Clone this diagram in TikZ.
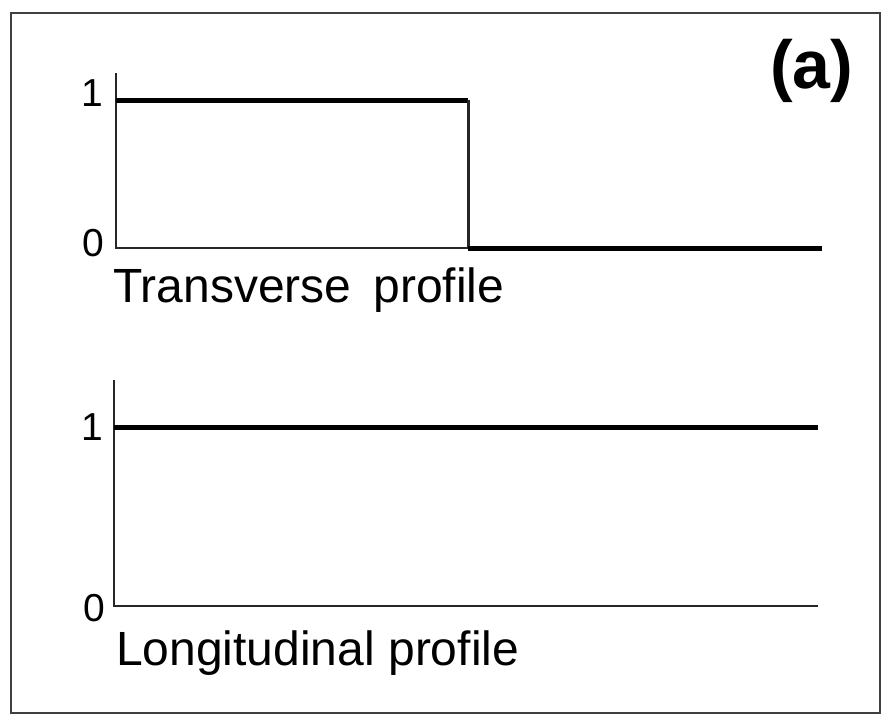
\documentclass[tikz,border=0pt]{standalone}
\usepackage{fontspec}
\setmainfont{Liberation Sans}
\usetikzlibrary{positioning}

\begin{document}
\begin{tikzpicture}[
    x=1pt, y=-1pt,
    frame/.style={line width=2pt, black!75},
    axis/.style={line width=2pt, black!85},
    signal/.style={line width=5pt, black},
    ticklabel/.style={font=\fontsize{39}{40}\selectfont, anchor=east, inner sep=0pt},
    caption/.style={font=\fontsize{48}{50}\selectfont, anchor=base west, inner sep=0pt},
    panel/.style={font=\bfseries\fontsize{68}{70}\selectfont, anchor=base west, inner sep=0pt}
]

    \useasboundingbox (0,0) rectangle (888,720);
    \draw [frame] (11,13) rectangle (880,713);

    % Panel label
    \node [panel] (tag) at (770,88) {(a)};

    %--- Transverse profile ---
    \coordinate (t-top) at (116,73);
    \coordinate (t-origin) at (116,248);
    \coordinate (t-end) at (822,248);
    \coordinate (t-one) at (116,100);
    \coordinate (t-step) at (468,100);
    \coordinate (t-foot) at (468,248);
    \draw [axis] (t-top) -- (t-origin) -- (t-foot);
    \draw [signal] (t-one) -- (t-step);
    \draw [axis, line width=3pt] (t-step) -- (t-foot);
    \draw [signal] (t-foot) -- (t-end);
    \node [ticklabel] (t-lab1) at (103,93.5) {1};
    \node [ticklabel] (t-lab0) at (104,243.5) {0};
    \node [caption] (t-cap) at (113,302) {Transverse\hspace{22pt}profile};

    %--- Longitudinal profile ---
    \coordinate (l-top) at (114,380);
    \coordinate (l-origin) at (114,606);
    \coordinate (l-end) at (818,606);
    \coordinate (l-one) at (114,427);
    \coordinate (l-right) at (818,427);
    \draw [axis] (l-top) -- (l-origin) -- (l-end);
    \draw [signal] (l-one) -- (l-right);
    \node [ticklabel] (l-lab1) at (103,427.5) {1};
    \node [ticklabel] (l-lab0) at (105,608) {0};
    \node [caption] (l-cap) at (116,665) {Longitudinal profile};

\end{tikzpicture}
\end{document}
